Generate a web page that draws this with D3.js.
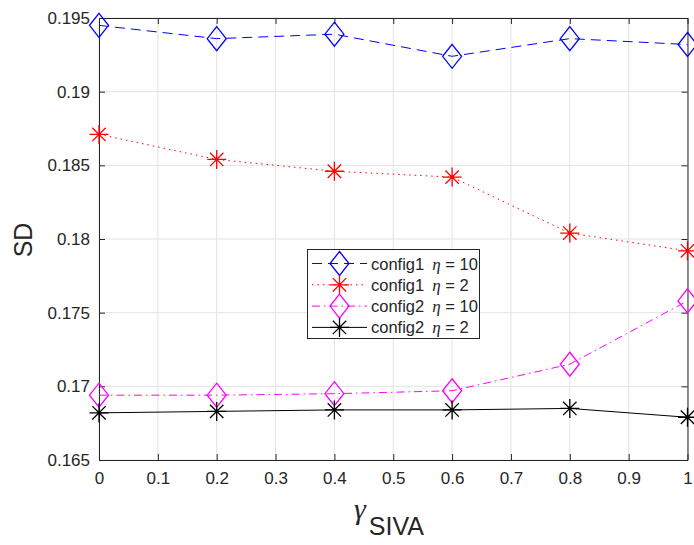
<!DOCTYPE html>
<html>
<head>
<meta charset="utf-8">
<script src="https://cdn.jsdelivr.net/npm/d3@7"></script>
<style>
  body { margin: 0; background: #fff; }
  svg { display: block; }
  text { font-family: "Liberation Sans", Arial, Helvetica, sans-serif; fill: #262626; }
</style>
</head>
<body>
<svg id="chart" width="694" height="545"></svg>
<script>
// gamma_SIVA values on the x axis
const gammaValues = [0, 0.2, 0.4, 0.6, 0.8, 1.0];

// SD for each configuration
const config1Eta10 = [0.1945, 0.1936, 0.1939, 0.1924, 0.1936, 0.1932];
const config1Eta2  = [0.1871, 0.1854, 0.1846, 0.1842, 0.1804, 0.1792];
const config2Eta10 = [0.1694, 0.1694, 0.1695, 0.1697, 0.1715, 0.1758];
const config2Eta2  = [0.1682, 0.1683, 0.1684, 0.1684, 0.1685, 0.1679];

const xTicks = [0, 0.1, 0.2, 0.3, 0.4, 0.5, 0.6, 0.7, 0.8, 0.9, 1];
const xTickLabels = ["0", "0.1", "0.2", "0.3", "0.4", "0.5", "0.6", "0.7", "0.8", "0.9", "1"];
const yTicks = [0.165, 0.17, 0.175, 0.18, 0.185, 0.19, 0.195];
const yTickLabels = ["0.165", "0.17", "0.175", "0.18", "0.185", "0.19", "0.195"];

const seriesNames = ["config1", "config1", "config2", "config2"];
const seriesEta = ["10", "2", "10", "2"];

const series = [
  { name: seriesNames[0], eta: seriesEta[0], values: config1Eta10, color: "#0000ff", dash: "10,6", marker: "diamond" },
  { name: seriesNames[1], eta: seriesEta[1], values: config1Eta2,  color: "#ff0000", dash: "1.5,4", marker: "asterisk" },
  { name: seriesNames[2], eta: seriesEta[2], values: config2Eta10, color: "#ff00ff", dash: "8,4,1.5,4", marker: "diamond" },
  { name: seriesNames[3], eta: seriesEta[3], values: config2Eta2,  color: "#000000", dash: null, marker: "asterisk" }
];

const svg = d3.select("#chart");
const margin = { left: 99, right: 6.5, top: 18, bottom: 85 };
const W = 694, H = 545;
const x = d3.scaleLinear().domain([0, 1]).range([margin.left, W - margin.right]);
const y = d3.scaleLinear().domain([0.165, 0.195]).range([H - margin.bottom, margin.top]);

const axisColor = "#262626";
const gridColor = "#e3e3e3";

// grid
const grid = svg.append("g");
grid.selectAll("line.gx").data(xTicks).join("line")
  .attr("x1", d => x(d)).attr("x2", d => x(d))
  .attr("y1", y.range()[1]).attr("y2", y.range()[0])
  .attr("stroke", gridColor).attr("stroke-width", 1);
grid.selectAll("line.gy").data(yTicks).join("line")
  .attr("y1", d => y(d)).attr("y2", d => y(d))
  .attr("x1", x.range()[0]).attr("x2", x.range()[1])
  .attr("stroke", gridColor).attr("stroke-width", 1);

// axes with inward ticks on all four sides
function styleAxis(g) {
  g.select(".domain").attr("stroke", axisColor).attr("stroke-width", 1);
  g.selectAll(".tick line").attr("stroke", axisColor).attr("stroke-width", 1);
  g.selectAll(".tick text").attr("fill", axisColor)
    .style("font-family", '"Liberation Sans", Arial, sans-serif').style("font-size", "17px");
}
const bottomAxis = d3.axisBottom(x).tickValues(xTicks).tickFormat((d, i) => xTickLabels[i])
  .tickSizeInner(-6).tickSizeOuter(0).tickPadding(12);
svg.append("g").attr("transform", `translate(0,${y.range()[0]})`).call(bottomAxis).call(styleAxis);

const topAxis = d3.axisTop(x).tickValues(xTicks).tickFormat("").tickSizeInner(-6).tickSizeOuter(0);
svg.append("g").attr("transform", `translate(0,${y.range()[1]})`).call(topAxis).call(styleAxis);

const leftAxis = d3.axisLeft(y).tickValues(yTicks).tickFormat((d, i) => yTickLabels[i])
  .tickSizeInner(-6).tickSizeOuter(0).tickPadding(9);
svg.append("g").attr("transform", `translate(${x.range()[0]},0)`).call(leftAxis).call(styleAxis);

const rightAxis = d3.axisRight(y).tickValues(yTicks).tickFormat("").tickSizeInner(-6).tickSizeOuter(0);
svg.append("g").attr("transform", `translate(${x.range()[1]},0)`).call(rightAxis).call(styleAxis);

// markers
function drawMarker(g, type, cx, cy, color) {
  if (type === "diamond") {
    const hw = 9.5, hh = 12;
    g.append("path")
      .attr("d", `M${cx},${cy - hh}L${cx + hw},${cy}L${cx},${cy + hh}L${cx - hw},${cy}Z`)
      .attr("fill", "none").attr("stroke", color).attr("stroke-width", 1.3);
  } else {
    const r = 9.5, d = 6.7;
    g.append("path")
      .attr("d", `M${cx - r},${cy}H${cx + r}M${cx},${cy - r}V${cy + r}` +
                 `M${cx - d},${cy - d}L${cx + d},${cy + d}M${cx - d},${cy + d}L${cx + d},${cy - d}`)
      .attr("fill", "none").attr("stroke", color).attr("stroke-width", 1.3);
  }
}

const line = d3.line().x((d, i) => x(gammaValues[i])).y(d => y(d));
const plot = svg.append("g");
series.forEach(s => {
  plot.append("path").datum(s.values)
    .attr("d", line)
    .attr("fill", "none").attr("stroke", s.color).attr("stroke-width", 1)
    .attr("stroke-dasharray", s.dash);
  s.values.forEach((v, i) => drawMarker(plot, s.marker, x(gammaValues[i]), y(v), s.color));
});

// axis labels
svg.append("text")
  .attr("transform", "translate(32,240) rotate(-90)")
  .attr("text-anchor", "middle")
  .style("font-size", "25px")
  .text("SD");

const xl = svg.append("text").attr("x", 354).attr("y", 519).style("font-size", "25px");
xl.append("tspan").style("font-family", '"Liberation Serif", "Times New Roman", serif')
  .style("font-style", "italic").style("font-size", "30px").text("γ");
xl.append("tspan").attr("dy", 16).attr("dx", 3).text("SIVA");

// legend
const lg = svg.append("g");
lg.append("rect").attr("x", 307.5).attr("y", 249.5).attr("width", 172).attr("height", 89)
  .attr("fill", "#fff").attr("stroke", axisColor).attr("stroke-width", 1);
series.forEach((s, i) => {
  const cy = 263.5 + i * 21.3;
  lg.append("line").attr("x1", 312).attr("x2", 367).attr("y1", cy).attr("y2", cy)
    .attr("stroke", s.color).attr("stroke-width", 1).attr("stroke-dasharray", s.dash);
  drawMarker(lg, s.marker, 339.5, cy, s.color);
  const t = lg.append("text").attr("x", 371).attr("y", cy + 6).style("font-size", "16.5px").attr("fill", "#000");
  t.append("tspan").text(s.name);
  t.append("tspan").attr("dx", 8).style("font-family", '"Liberation Serif", "Times New Roman", serif')
    .style("font-style", "italic").style("font-size", "17px").text("η");
  t.append("tspan").text(" = " + s.eta);
});
</script>
</body>
</html>
